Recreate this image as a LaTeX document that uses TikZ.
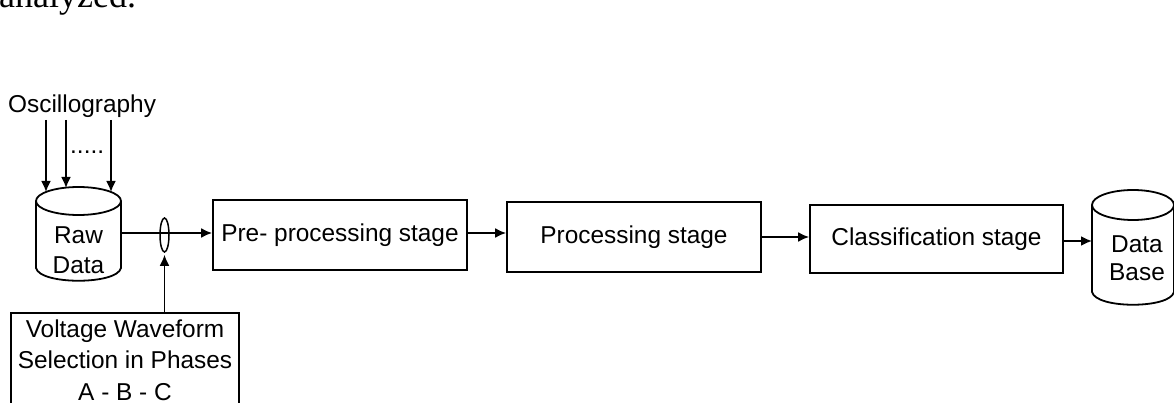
\documentclass[tikz,border=0pt]{standalone}
\usepackage{fontspec}
\setmainfont{Liberation Sans}
\newfontfamily\seriffont{Liberation Serif}
\usetikzlibrary{arrows.meta,shapes.geometric}
\begin{document}
\begin{tikzpicture}[x=1pt,y=-1pt,
  lw/.style={line width=1.8pt},
  arr/.style={lw,-{Latex[length=11pt,width=10pt]}},
  stagebox/.style={draw,lw,inner sep=0pt,text height=17.5pt,text depth=5.1pt},
  every node/.style={font=\fontsize{24.4}{30}\selectfont}
]
\useasboundingbox (0,0) rectangle (1174,403);

% cut-off page text at the top
\node[anchor=base west,inner sep=0,font=\seriffont\fontsize{36}{40}\selectfont] (top) at (-1,8) {analyzed.};

% oscillography inputs
\node[anchor=base west,inner sep=0] (osc) at (8,113) {Oscillography};
\node[anchor=base west,inner sep=0] (dots) at (70,154) {.....};
\coordinate (o1) at (46,120);  \coordinate (r1) at (46,192);
\coordinate (o2) at (66,120);  \coordinate (r2) at (66,188);
\coordinate (o3) at (111,120); \coordinate (r3) at (111,192);

% Raw Data cylinder
\draw[lw] (36,201) -- (36,268) .. controls (40,285) and (117,285) .. (121,268) -- (121,201);
\draw[lw] (78.5,201) ellipse [x radius=42.5, y radius=14];
\node[align=center,anchor=base] (raw) at (78.5,273) {Raw\\Data};
\coordinate (rawR) at (121,233);

% selection ellipse
\node[draw,line width=1.5pt,ellipse,minimum width=9pt,minimum height=34pt,inner sep=0] (sel) at (164.5,235) {};

% stages
\node[stagebox,minimum width=254pt,minimum height=70pt] (pre) at (340,235) {Pre- processing stage};
\node[stagebox,minimum width=254pt,minimum height=70pt] (proc) at (634,237) {Processing stage};
\node[stagebox,minimum width=253pt,minimum height=68pt] (cls) at (936.5,239) {Classification stage};

% Data Base cylinder
\draw[lw] (1092,205) -- (1092,292) .. controls (1096,309) and (1170,309) .. (1174,292) -- (1174,205);
\draw[lw] (1133,205) ellipse [x radius=41, y radius=15];
\node[align=center,anchor=base,font=\fontsize{24.4}{28}\selectfont] (db) at (1137,280) {Data\\Base};
\coordinate (dbL) at (1092,241);

% voltage selection box
\node[draw,lw,minimum width=228pt,minimum height=120pt,anchor=north] (vbox) at (125,312) {};
\node[align=center,anchor=base,font=\fontsize{24.4}{31.5}\selectfont] (vtxt) at (125,400) {Voltage Waveform\\Selection in Phases\\A - B - C};

% connectors
\coordinate (y233) at (0,233);
\coordinate (y237) at (0,237);
\coordinate (y241) at (0,241);
\draw[arr] (o1) -- (r1);
\draw[arr] (o2) -- (r2);
\draw[arr] (o3) -- (r3);
\draw[arr] (rawR) -- (pre.west |- rawR);
\draw[arr] (pre.east |- y233) -- (proc.west |- y233);
\draw[arr] (proc.east |- y237) -- (cls.west |- y237);
\draw[arr] (cls.east |- y241) -- (dbL);
\draw[arr,shorten >=2pt] (vbox.north -| sel) -- (sel.south);
\end{tikzpicture}
\end{document}
